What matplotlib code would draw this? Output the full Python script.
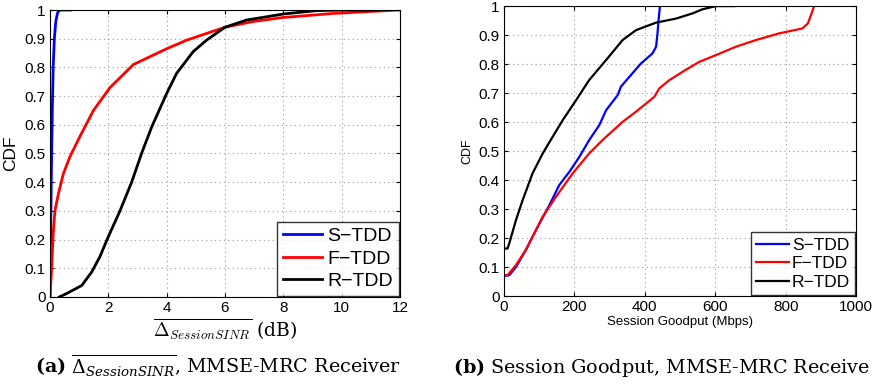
import numpy as np
import matplotlib
matplotlib.use('Agg')
import matplotlib.pyplot as plt

plt.rcParams['font.family'] = 'Liberation Sans'

# (a) delta session SINR, dB
s_x_a = [0.0, 0.02, 0.05, 0.08, 0.11, 0.15, 0.2, 0.26, 0.33, 0.45, 0.7]
s_y_a = [0.0, 0.2, 0.45, 0.65, 0.8, 0.9, 0.96, 0.99, 1.0, 1.0, 1.0]
f_x_a = [0.0, 0.03, 0.06, 0.11, 0.17, 0.29, 0.46, 0.69, 1.03, 1.49, 2.06, 2.86, 4.0, 4.69,
         6.0, 6.97, 8.0, 9.71, 11.0, 12.0]
f_y_a = [0.0, 0.05, 0.105, 0.22, 0.3, 0.36, 0.43, 0.49, 0.56, 0.65, 0.73, 0.81, 0.865, 0.895,
         0.94, 0.96, 0.974, 0.988, 0.995, 1.0]
r_x_a = [0.32, 0.57, 1.09, 1.43, 1.71, 2.0, 2.4, 2.8, 3.14, 3.49, 4.0, 4.34, 4.91, 5.37,
         6.0, 6.74, 8.0, 9.14, 10.0, 11.3]
r_y_a = [0.0, 0.012, 0.04, 0.087, 0.14, 0.21, 0.3, 0.4, 0.5, 0.593, 0.709, 0.779, 0.855, 0.895,
         0.94, 0.965, 0.986, 0.998, 1.0, 1.0]

# (b) session goodput, Mbps
s_x_b = [0, 15, 34, 62, 91, 129, 157, 186, 214, 242, 271, 290, 323, 332, 356, 389, 422, 432,
         436, 439, 443]
s_y_b = [0.069, 0.072, 0.1, 0.159, 0.228, 0.314, 0.383, 0.429, 0.48, 0.538, 0.59, 0.641,
         0.693, 0.722, 0.756, 0.802, 0.837, 0.86, 0.906, 0.952, 1.0]
f_x_b = [0, 10, 34, 62, 110, 148, 195, 242, 280, 337, 375, 427, 441, 470, 508, 555, 602, 659,
         716, 782, 848, 863, 872, 881]
f_y_b = [0.072, 0.072, 0.107, 0.159, 0.274, 0.343, 0.423, 0.492, 0.538, 0.601, 0.636, 0.687,
         0.716, 0.745, 0.774, 0.808, 0.831, 0.86, 0.883, 0.906, 0.923, 0.94, 0.969, 1.0]
r_x_b = [0, 10, 15, 34, 53, 81, 110, 138, 167, 205, 242, 290, 337, 375, 432, 489, 536, 564,
         602, 654]
r_y_b = [0.164, 0.164, 0.182, 0.262, 0.331, 0.423, 0.492, 0.549, 0.607, 0.676, 0.745, 0.814,
         0.883, 0.917, 0.943, 0.957, 0.975, 0.989, 1.0, 1.0]

names = ['S\u2212TDD', 'F\u2212TDD', 'R\u2212TDD']
colors = ['#0000ff', '#ff0000', '#000000']

fig = plt.figure(figsize=(8.72, 3.85), dpi=100)
ax1 = fig.add_axes([0.0573, 0.2286, 0.4014, 0.7454])
ax2 = fig.add_axes([0.578, 0.231, 0.4037, 0.7532])


def style(ax, fs):
    ax.grid(True, linestyle=(0, (1, 3)), color='#999999', linewidth=0.8)
    ax.tick_params(direction='in', top=True, right=True, length=3, labelsize=fs, pad=3)
    for sp in ax.spines.values():
        sp.set_linewidth(0.8)


ax1.plot(s_x_a, s_y_a, color=colors[0], lw=2, label=names[0])
ax1.plot(f_x_a, f_y_a, color=colors[1], lw=2, label=names[1])
ax1.plot(r_x_a, r_y_a, color=colors[2], lw=2, label=names[2])
ax1.set_xlim(0, 12)
ax1.set_ylim(0, 1)
ax1.set_xticks(np.arange(0, 13, 2))
ax1.set_yticks(np.arange(0, 1.01, 0.1))
ax1.set_yticklabels(['0'] + ['%.1f' % v for v in np.arange(0.1, 0.95, 0.1)] + ['1'])
style(ax1, 11)
ax1.set_ylabel('CDF', fontsize=12.5, labelpad=5)
ax1.set_xlabel(r'$\overline{\Delta_{SessionSINR}}$ (dB)', fontsize=13.5, labelpad=1,
               math_fontfamily='cm', family='DejaVu Serif')
leg = ax1.legend(loc='lower right', fontsize=14, frameon=True, fancybox=False,
                 edgecolor='black', borderaxespad=0.05, handlelength=2.0,
                 handletextpad=0.3, labelspacing=0.25, borderpad=0.3)
leg.get_frame().set_linewidth(1.0)

ax2.plot(s_x_b, s_y_b, color=colors[0], lw=1.6, label=names[0])
ax2.plot(f_x_b, f_y_b, color=colors[1], lw=1.6, label=names[1])
ax2.plot(r_x_b, r_y_b, color=colors[2], lw=1.6, label=names[2])
ax2.set_xlim(0, 1000)
ax2.set_ylim(0, 1)
ax2.set_xticks(np.arange(0, 1001, 200))
ax2.set_yticks(np.arange(0, 1.01, 0.1))
ax2.set_yticklabels(['0'] + ['%.1f' % v for v in np.arange(0.1, 0.95, 0.1)] + ['1'])
style(ax2, 11)
ax2.set_ylabel('CDF', fontsize=9, labelpad=4)
ax2.set_xlabel('Session Goodput (Mbps)', fontsize=9.5, labelpad=1)
leg = ax2.legend(loc='lower right', fontsize=12.5, frameon=True, fancybox=False,
                 edgecolor='black', borderaxespad=0.05, handlelength=1.9,
                 handletextpad=0.15, labelspacing=0.2, borderpad=0.3)
leg.get_frame().set_linewidth(1.0)

fig.text(0.25, 0.03, r'$\mathbf{(a)}$ $\overline{\Delta_{SessionSINR}}$, MMSE-MRC Receiver',
         ha='center', fontsize=13.8, family='DejaVu Serif', math_fontfamily='dejavuserif')
fig.text(0.998, 0.03, r'$\mathbf{(b)}$ Session Goodput, MMSE-MRC Receive',
         ha='right', fontsize=13.8, family='DejaVu Serif', math_fontfamily='dejavuserif')

fig.savefig('out.png', dpi=100)
